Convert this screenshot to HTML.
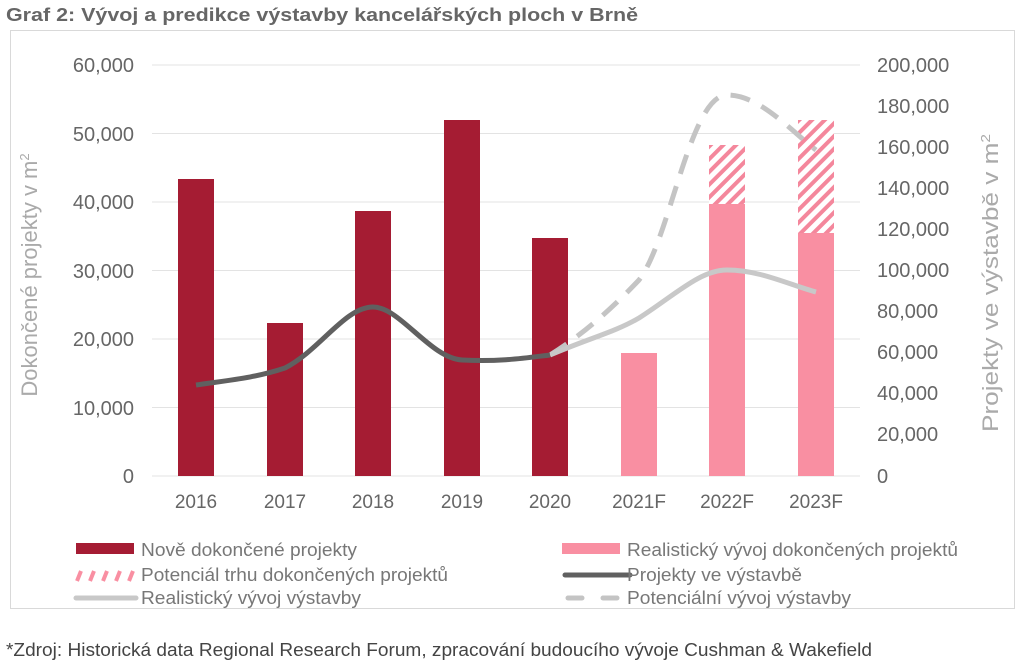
<!DOCTYPE html>
<html><head><meta charset="utf-8"><style>
body{margin:0;background:#fff;width:1024px;height:666px;overflow:hidden;font-family:"Liberation Sans",sans-serif}
</style></head><body>
<svg width="1024" height="666" xmlns="http://www.w3.org/2000/svg" font-family="Liberation Sans, sans-serif">
<defs>
<pattern id="h" patternUnits="userSpaceOnUse" width="9" height="9" patternTransform="rotate(45)">
<rect width="9" height="9" fill="#fff"/><rect width="4" height="9" fill="#f4879c"/></pattern>
</defs>
<text x="6" y="21" font-size="18" font-weight="bold" fill="#666" textLength="632" lengthAdjust="spacingAndGlyphs">Graf 2: Vývoj a predikce výstavby kancelářských ploch v Brně</text>
<rect x="10.5" y="30.5" width="1004" height="578" fill="none" stroke="#d9d9d9"/>
<g stroke="#e3e3e3" stroke-width="1">
<line x1="152" x2="860" y1="65" y2="65"/><line x1="152" x2="860" y1="133.5" y2="133.5"/>
<line x1="152" x2="860" y1="202" y2="202"/><line x1="152" x2="860" y1="270.5" y2="270.5"/>
<line x1="152" x2="860" y1="339" y2="339"/><line x1="152" x2="860" y1="407.5" y2="407.5"/>
<line x1="152" x2="860" y1="476" y2="476"/></g>
<g font-size="20" fill="#666" text-anchor="end">
<text x="134" y="72">60,000</text><text x="134" y="141">50,000</text><text x="134" y="209">40,000</text>
<text x="134" y="278">30,000</text><text x="134" y="346">20,000</text><text x="134" y="415">10,000</text><text x="134" y="483">0</text></g>
<g font-size="20" fill="#666">
<text x="877" y="72">200,000</text><text x="877" y="113">180,000</text><text x="877" y="154">160,000</text>
<text x="877" y="195">140,000</text><text x="877" y="236">120,000</text><text x="877" y="277">100,000</text>
<text x="877" y="318">80,000</text><text x="877" y="359">60,000</text><text x="877" y="400">40,000</text>
<text x="877" y="441">20,000</text><text x="877" y="483">0</text></g>
<text transform="translate(37,275) rotate(-90)" font-size="22" fill="#aaa" text-anchor="middle">Dokončené projekty v m<tspan dy="-8" font-size="13">2</tspan></text>
<text transform="translate(998,283) rotate(-90)" font-size="22" fill="#aaa" text-anchor="middle" textLength="298" lengthAdjust="spacingAndGlyphs">Projekty ve výstavbě v m<tspan dy="-8" font-size="13">2</tspan></text>
<g fill="#a51c33">
<rect x="178" y="179" width="36" height="297"/><rect x="267" y="323" width="36" height="153"/>
<rect x="355" y="211" width="36" height="265"/><rect x="444" y="120" width="36" height="356"/>
<rect x="532" y="238" width="36" height="238"/></g>
<g fill="#f98fa2">
<rect x="621" y="353" width="36" height="123"/><rect x="709" y="204" width="36" height="272"/>
<rect x="798" y="233" width="36" height="243"/></g>
<rect x="709" y="145" width="36" height="59" fill="url(#h)"/>
<rect x="798" y="120" width="36" height="113" fill="url(#h)"/>
<g font-size="19" fill="#666" text-anchor="middle">
<text x="196" y="508">2016</text><text x="285" y="508">2017</text><text x="373" y="508">2018</text>
<text x="462" y="508">2019</text><text x="550" y="508">2020</text><text x="639" y="508">2021F</text>
<text x="727" y="508">2022F</text><text x="816" y="508">2023F</text></g>
<path d="M550,355 C590,330 620,300 639,280 C670,240 690,95 727,95 C760,95 790,130 816,150" fill="none" stroke="#c4c4c4" stroke-width="5" stroke-dasharray="20,13"/>
<path d="M550,355 C590,338 615,332 639,318 C675,295 700,270 727,270 C760,270 790,285 816,292" fill="none" stroke="#c8c8c8" stroke-width="5"/>
<path d="M196,385 C230,380 255,378 285,368 C320,350 345,307 373,307 C400,307 430,358 462,360 C500,362 525,358 550,355" fill="none" stroke="#606060" stroke-width="5"/>
<g font-size="18" fill="#777">
<rect x="76" y="543" width="58" height="11" fill="#a51c33"/><text x="141" y="556" textLength="216" lengthAdjust="spacingAndGlyphs">Nově dokončené projekty</text>
<rect x="562" y="543" width="58" height="11" fill="#f98fa2"/><text x="627" y="556" textLength="331" lengthAdjust="spacingAndGlyphs">Realistický vývoj dokončených projektů</text>
<g stroke="#f98fa2" stroke-width="4"><line x1="77" y1="581" x2="81" y2="571"/><line x1="90" y1="581" x2="94" y2="571"/><line x1="103" y1="581" x2="107" y2="571"/><line x1="116" y1="581" x2="120" y2="571"/><line x1="129" y1="581" x2="133" y2="571"/></g>
<text x="141" y="581" textLength="307" lengthAdjust="spacingAndGlyphs">Potenciál trhu dokončených projektů</text>
<line x1="565" x2="630" y1="575" y2="575" stroke="#606060" stroke-width="5" stroke-linecap="round"/><text x="627" y="581" textLength="175" lengthAdjust="spacingAndGlyphs">Projekty ve výstavbě</text>
<line x1="76" x2="136" y1="598" y2="598" stroke="#c8c8c8" stroke-width="5" stroke-linecap="round"/><text x="141" y="604" textLength="220" lengthAdjust="spacingAndGlyphs">Realistický vývoj výstavby</text>
<line x1="568" x2="582" y1="598" y2="598" stroke="#c4c4c4" stroke-width="5" stroke-linecap="round"/><line x1="603" x2="617" y1="598" y2="598" stroke="#c4c4c4" stroke-width="5" stroke-linecap="round"/><text x="627" y="604" textLength="224" lengthAdjust="spacingAndGlyphs">Potenciální vývoj výstavby</text>
</g>
<text x="6" y="656" font-size="18" fill="#444" textLength="866" lengthAdjust="spacingAndGlyphs">*Zdroj: Historická data Regional Research Forum, zpracování budoucího vývoje Cushman &amp; Wakefield</text>
</svg>
</body></html>
